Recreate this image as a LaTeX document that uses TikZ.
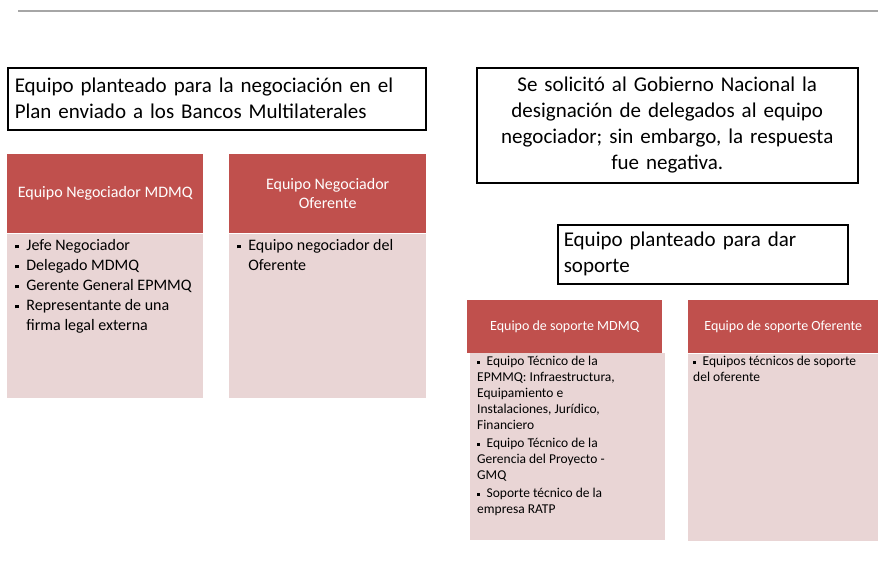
\documentclass[tikz,border=0pt]{standalone}
\usepackage{fontspec}
\setmainfont{Carlito}
\newfontfamily\notefont{Carlito}[WordSpace={0.6,0.3,0.3}]
\usepackage{tikz}
\usetikzlibrary{positioning}
\definecolor{headred}{HTML}{C0504D}
\definecolor{bodypink}{HTML}{E9D5D5}
\definecolor{rulegray}{HTML}{A6A6A6}
\tikzset{
  notebox/.style={draw=black, line width=1.5pt, fill=white, anchor=north west, inner sep=6pt,
    font=\notefont\fontsize{21}{26}\selectfont},
  headbox/.style={fill=headred, text=white, anchor=north west, align=center, inner sep=0pt,
    font=\fontsize{16}{19}\selectfont},
  bodybox/.style={fill=bodypink, anchor=north west, inner sep=0pt},
  itemtext/.style={anchor=north west, align=left, inner xsep=0pt, inner ysep=0pt,
    font=\fontsize{16}{20}\selectfont},
  smallhead/.style={headbox, font=\fontsize{14}{17}\selectfont},
  smalltext/.style={itemtext, font=\fontsize{13.5}{16}\selectfont}
}
\newcommand{\bul}{\makebox[0.7em][l]{\rule[0.3ex]{0.23em}{0.23em}}}
\newcommand{\ind}{\hspace*{0.7em}}

\begin{document}
\begin{tikzpicture}[x=1pt,y=-1pt]
\useasboundingbox (0,0) rectangle (878,576);
\draw[rulegray, line width=2pt] (18,11) -- (878,11);

% cuadros de texto
\node[notebox, minimum width=418pt, minimum height=62pt, text width=404pt, align=left] (plan) at (7,67)
  {Equipo planteado para la negociación en el\\Plan enviado a los Bancos Multilaterales};
\node[notebox, minimum width=381pt, minimum height=115pt, text width=365pt, align=center] (gobierno) at (476,67)
  {Se solicitó al Gobierno Nacional la\\designación de delegados al equipo\\negociador; sin embargo, la respuesta\\fue negativa.};
\node[notebox, minimum width=290pt, minimum height=59pt, text width=278pt, align=left] (soporte) at (557,224)
  {Equipo planteado para dar\\soporte};

% equipo negociador
\node[headbox, minimum width=196pt, minimum height=79pt] (negMDMQ) at (7,154) {Equipo Negociador MDMQ};
\node[bodybox, minimum width=196pt, minimum height=164pt] (bodyMDMQ) at (negMDMQ.south west) {};
\node[itemtext] (itemsMDMQ) at ([xshift=8pt, yshift=-6pt]bodyMDMQ.north west)
  {\bul Jefe Negociador\\\bul Delegado MDMQ\\\bul Gerente General EPMMQ\\\bul Representante de una\\\ind firma legal externa};

\node[headbox, minimum width=197pt, minimum height=79pt] (negOfer) at (229,154) {Equipo Negociador\\Oferente};
\node[bodybox, minimum width=197pt, minimum height=164pt] (bodyOfer) at (negOfer.south west) {};
\node[itemtext] (itemsOfer) at ([xshift=8pt, yshift=-6pt]bodyOfer.north west)
  {\bul Equipo negociador del\\\ind Oferente};

% equipo de soporte
\node[smallhead, minimum width=195pt, minimum height=53pt] (sopMDMQ) at (467,300) {Equipo de soporte MDMQ};
\node[bodybox, minimum width=195pt, minimum height=187pt] (bodySopMDMQ) at (470,353) {};
\node[smalltext] (itemsSopMDMQ) at ([xshift=7pt, yshift=-3pt]bodySopMDMQ.north west)
  {\bul Equipo Técnico de la\\EPMMQ: Infraestructura,\\Equipamiento e\\Instalaciones, Jurídico,\\Financiero\\[2pt]
   \bul Equipo Técnico de la\\Gerencia del Proyecto -\\GMQ\\[2pt]
   \bul Soporte técnico de la\\empresa RATP};

\node[smallhead, minimum width=190pt, minimum height=53pt] (sopOfer) at (688,300) {Equipo de soporte Oferente};
\node[bodybox, minimum width=190pt, minimum height=187pt] (bodySopOfer) at (sopOfer.south west) {};
\node[smalltext] (itemsSopOfer) at ([xshift=5pt, yshift=-3pt]bodySopOfer.north west)
  {\bul Equipos técnicos de soporte\\del oferente};
\end{tikzpicture}
\end{document}
